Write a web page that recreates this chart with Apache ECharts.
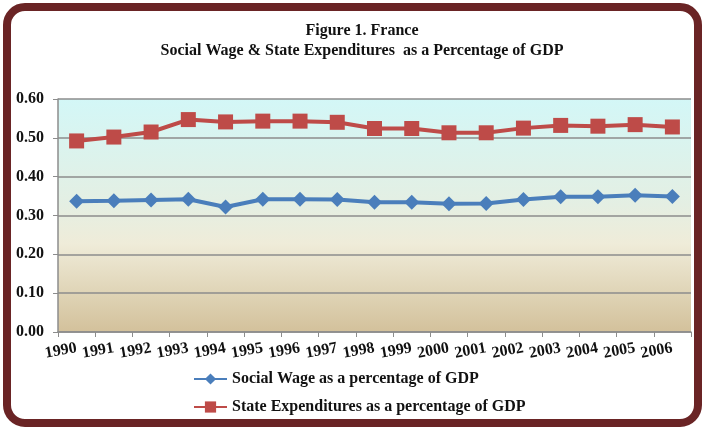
<!DOCTYPE html>
<html>
<head>
<meta charset="utf-8">
<script src="https://cdn.jsdelivr.net/npm/echarts@6/dist/echarts.min.js"></script>
<style>
html,body{margin:0;padding:0;background:#fff;}
#chart{width:705px;height:430px;}
</style>
</head>
<body>
<div id="chart"></div>
<script>
const years = ['1990','1991','1992','1993','1994','1995','1996','1997','1998','1999','2000','2001','2002','2003','2004','2005','2006'];
const socialWage = [0.337,0.338,0.340,0.342,0.322,0.342,0.342,0.341,0.334,0.334,0.330,0.331,0.341,0.348,0.348,0.352,0.349];
const stateExp = [0.492,0.502,0.515,0.547,0.541,0.543,0.543,0.540,0.524,0.524,0.513,0.513,0.525,0.532,0.530,0.534,0.528];
const yTicks = [0, 0.6, 0.1];
const titleLines = ['Figure 1. France', 'Social Wage & State Expenditures  as a Percentage of GDP'];
const seriesNames = ['Social Wage as a percentage of GDP', 'State Expenditures as a percentage of GDP'];

const font = '"Liberation Serif", "Times New Roman", serif';
const chart = echarts.init(document.getElementById('chart'));
chart.setOption({
  animation: false,
  backgroundColor: '#fff',
  graphic: [{
    type: 'rect', z: -10, silent: true,
    shape: { x: 7, y: 7, width: 691, height: 416, r: 18 },
    style: { fill: '#fff', stroke: '#6a2425', lineWidth: 8 }
  }],
  title: {
    text: titleLines.join('\n'),
    left: 357, textAlign: 'center', top: 16,
    textStyle: { fontFamily: font, fontWeight: 'bold', fontSize: 16, lineHeight: 20, color: '#111' }
  },
  legend: {
    orient: 'vertical', left: 188, top: 366, itemGap: 12,
    itemWidth: 33, itemHeight: 14,
    textStyle: { fontFamily: font, fontWeight: 'bold', fontSize: 16, color: '#111' },
    data: seriesNames
  },
  grid: {
    left: 58, right: 14, top: 99, bottom: 98,
    show: true, borderWidth: 0,
    backgroundColor: new echarts.graphic.LinearGradient(0, 0, 0, 1, [
      { offset: 0, color: '#d3f7f7' },
      { offset: 0.45, color: '#e4efe3' },
      { offset: 0.62, color: '#efecd9' },
      { offset: 1, color: '#d3c19b' }
    ])
  },
  xAxis: {
    type: 'category', data: years, boundaryGap: true,
    axisLine: { lineStyle: { color: '#8c8c8c', width: 1.5 } },
    axisTick: { show: true, length: 5, lineStyle: { color: '#8c8c8c' } },
    axisLabel: { rotate: 10, margin: 16, fontFamily: font, fontWeight: 'bold', fontSize: 16, color: '#111', interval: 0 }
  },
  yAxis: {
    type: 'value', min: yTicks[0], max: yTicks[1], interval: yTicks[2],
    axisLine: { show: true, lineStyle: { color: '#8c8c8c', width: 1.5 } },
    axisTick: { show: true, length: 5, lineStyle: { color: '#8c8c8c' } },
    splitLine: { lineStyle: { color: '#8c8c8c', width: 1.5 } },
    axisLabel: { formatter: v => v.toFixed(2), margin: 14, fontFamily: font, fontWeight: 'bold', fontSize: 16, color: '#111' }
  },
  series: [{
    name: seriesNames[0], type: 'line', data: socialWage,
    symbol: 'diamond', symbolSize: 15,
    lineStyle: { color: '#4a7ebb', width: 4 },
    itemStyle: { color: '#4a7ebb' }
  }, {
    name: seriesNames[1], type: 'line', data: stateExp,
    symbol: 'rect', symbolSize: 15,
    lineStyle: { color: '#be4b48', width: 4 },
    itemStyle: { color: '#be4b48' }
  }]
});
</script>
</body>
</html>
